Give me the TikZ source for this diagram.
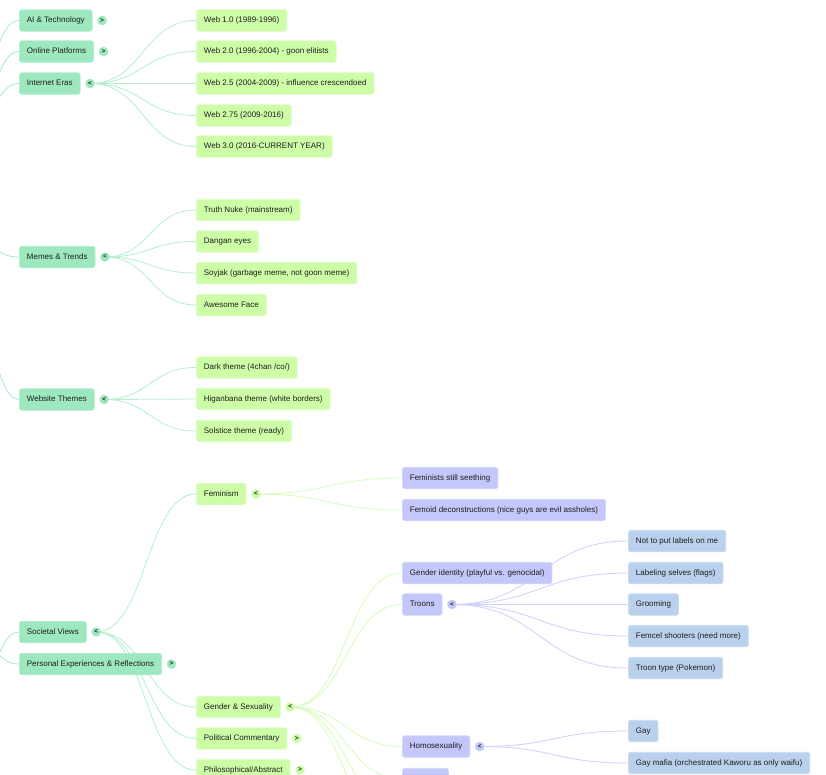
\documentclass[tikz,border=0pt]{standalone}
\usepackage{fontspec}
\setmainfont{Liberation Sans}
\usetikzlibrary{calc,backgrounds}
\definecolor{txt}{HTML}{1E1E1E}
\definecolor{lonefill}{HTML}{9DE8BE}
\definecolor{loneline}{HTML}{B3EFCE}
\definecolor{ltwofill}{HTML}{CEFDA8}
\definecolor{ltwoline}{HTML}{DDFEC4}
\definecolor{lthreefill}{HTML}{C3C7FA}
\definecolor{lthreeline}{HTML}{D3D6FC}
\definecolor{lfourfill}{HTML}{B9D1EC}
\definecolor{lfourline}{HTML}{CADCF2}
\definecolor{ezero}{HTML}{B0E6D8}
\definecolor{eone}{HTML}{B8EFD2}
\definecolor{etwo}{HTML}{D8FCBC}
\definecolor{ethree}{HTML}{CFD2F9}
\tikzset{
  box/.style={anchor=west, rounded corners=2.5pt, inner xsep=7.5pt, inner ysep=0pt,
    minimum height=21.5pt, text height=6pt, text depth=1.6pt,
    font=\fontsize{8}{10}\selectfont, text=txt, line width=0.8pt},
  lone/.style={box, fill=lonefill, draw=loneline},
  ltwo/.style={box, fill=ltwofill, draw=ltwoline},
  lthree/.style={box, fill=lthreefill, draw=lthreeline},
  lfour/.style={box, fill=lfourfill, draw=lfourline},
  btn/.style={circle, inner sep=0pt, minimum size=9.5pt,
    font=\fontsize{6.5}{6.5}\selectfont\bfseries, text=txt},
  curvy/.style={to path={let \p1=(\tikztostart), \p2=(\tikztotarget), \n1={(\x2-\x1)/2} in
    .. controls +(\n1,0) and +(-\n1,0) .. (\tikztotarget)}},
  ez/.style={draw=ezero, line width=0.85pt, curvy},
  eo/.style={draw=eone, line width=0.85pt, curvy},
  et/.style={draw=etwo, line width=0.85pt, curvy},
  eh/.style={draw=ethree, line width=0.85pt, curvy},
}
\begin{document}
\begin{tikzpicture}[x=1pt, y=-1pt]
\useasboundingbox (0,0) rectangle (826,774);
% level 1
\node[lone] (a1) at (19,20.5) {AI \& Technology};
\node[lone] (a2) at (19,51.5) {Online Platforms};
\node[lone] (a3) at (19,83.5) {Internet Eras};
\node[lone] (a4) at (19,257) {Memes \& Trends};
\node[lone] (a5) at (19,399.5) {Website Themes};
\node[lone] (a6) at (19,632) {Societal Views};
\node[lone] (a7) at (19,664) {Personal Experiences \& Reflections};
\node[btn, fill=lonefill] (ba1) at ($(a1.east)+(9.5,0)$) {>};
\node[btn, fill=lonefill] (ba2) at ($(a2.east)+(9.5,0)$) {>};
\node[btn, fill=lonefill] (ba3) at ($(a3.east)+(9.5,0)$) {<};
\node[btn, fill=lonefill] (ba4) at ($(a4.east)+(9.5,0)$) {<};
\node[btn, fill=lonefill] (ba5) at ($(a5.east)+(9.5,0)$) {<};
\node[btn, fill=lonefill] (ba6) at ($(a6.east)+(9.5,0)$) {<};
\node[btn, fill=lonefill] (ba7) at ($(a7.east)+(9.5,0)$) {>};
% level 2
\node[ltwo] (w1) at (196,20.5) {Web 1.0 (1989-1996)};
\node[ltwo] (w2) at (196,51.5) {Web 2.0 (1996-2004) - goon elitists};
\node[ltwo] (w3) at (196,83.5) {Web 2.5 (2004-2009) - influence crescendoed};
\node[ltwo] (w4) at (196,115.5) {Web 2.75 (2009-2016)};
\node[ltwo] (w5) at (196,146.5) {Web 3.0 (2016-CURRENT YEAR)};
\node[ltwo] (m1) at (196,210) {Truth Nuke (mainstream)};
\node[ltwo] (m2) at (196,241.5) {Dangan eyes};
\node[ltwo] (m3) at (196,273) {Soyjak (garbage meme, not goon meme)};
\node[ltwo] (m4) at (196,305) {Awesome Face};
\node[ltwo] (t1) at (196,367.5) {Dark theme (4chan /co/)};
\node[ltwo] (t2) at (196,399) {Higanbana theme (white borders)};
\node[ltwo] (t3) at (196,431) {Solstice theme (ready)};
\node[ltwo] (s1) at (196,494) {Feminism};
\node[ltwo] (s2) at (196,707) {Gender \& Sexuality};
\node[ltwo] (s3) at (196,738.5) {Political Commentary};
\node[ltwo] (s4) at (196,770) {Philosophical/Abstract};
\node[btn, fill=ltwofill] (bs1) at ($(s1.east)+(9.5,0)$) {<};
\node[btn, fill=ltwofill] (bs2) at ($(s2.east)+(9.5,0)$) {<};
\node[btn, fill=ltwofill] (bs3) at ($(s3.east)+(9.5,0)$) {>};
\node[btn, fill=ltwofill] (bs4) at ($(s4.east)+(9.5,0)$) {>};
% level 3
\node[lthree] (f1) at (402,478) {Feminists still seething};
\node[lthree] (f2) at (402,510) {Femoid deconstructions (nice guys are evil assholes)};
\node[lthree] (g1) at (402,573) {Gender identity (playful vs. genocidal)};
\node[lthree] (g2) at (402,604.5) {Troons};
\node[lthree] (g3) at (402,746.5) {Homosexuality};
\node[lthree, minimum width=46pt] (g4) at (402,779) {};
\coordinate (g5) at (402,809);
\coordinate (g6) at (402,841);
\node[btn, fill=lthreefill] (bg2) at ($(g2.east)+(9.5,0)$) {<};
\node[btn, fill=lthreefill] (bg3) at ($(g3.east)+(9.5,0)$) {<};
% level 4
\node[lfour] (r1) at (628,541) {Not to put labels on me};
\node[lfour] (r2) at (628,573) {Labeling selves (flags)};
\node[lfour] (r3) at (628,604.5) {Grooming};
\node[lfour] (r4) at (628,636) {Femcel shooters (need more)};
\node[lfour] (r5) at (628,668) {Troon type (Pokemon)};
\node[lfour] (h1) at (628,731) {Gay};
\node[lfour] (h2) at (628,763) {Gay mafia (orchestrated Kaworu as only waifu)};
% off-picture stubs
\coordinate (z1) at (-20,64);
\coordinate (z2) at (-20,93);
\coordinate (z3) at (-20,111);
\coordinate (z4) at (-20,247);
\coordinate (z5) at (-20,347);
\coordinate (z6) at (-20,674);
\coordinate (z7) at (-20,647);
\begin{scope}[on background layer]
  \clip (0,0) rectangle (826,774);
  \foreach \a/\b in {z1/a1,z2/a2,z3/a3,z4/a4,z5/a5,z6/a6,z7/a7}
    \draw[ez] (\a) to (\b.west);
  \foreach \b in {w1,w2,w3,w4,w5}
    \draw[eo] (ba3.center) to (\b.west);
  \foreach \b in {m1,m2,m3,m4}
    \draw[eo] (ba4.center) to (\b.west);
  \foreach \b in {t1,t2,t3}
    \draw[eo] (ba5.center) to (\b.west);
  \foreach \b in {s1,s2,s3,s4}
    \draw[eo] (ba6.center) to (\b.west);
  \foreach \b in {f1,f2}
    \draw[et] (bs1.center) to (\b.west);
  \foreach \b in {g1,g2,g3,g4}
    \draw[et] (bs2.center) to (\b.west);
  \foreach \b in {g5,g6}
    \draw[et] (bs2.center) to (\b);
  \foreach \b in {r1,r2,r3,r4,r5}
    \draw[eh] (bg2.center) to (\b.west);
  \foreach \b in {h1,h2}
    \draw[eh] (bg3.center) to (\b.west);
\end{scope}
\end{tikzpicture}
\end{document}
